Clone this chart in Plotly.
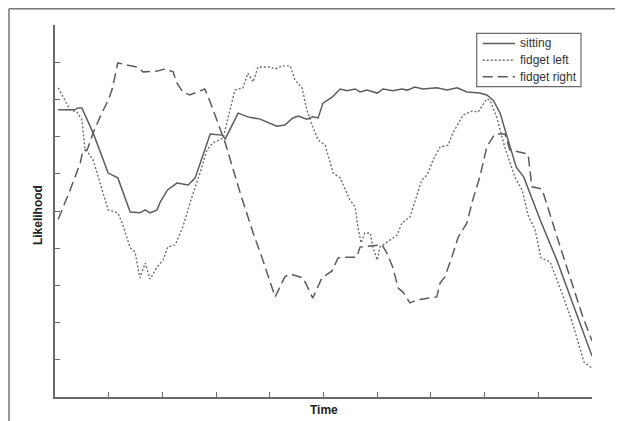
import plotly.graph_objects as go

# ---- data ----
sitting_t = [0.6, 3.7, 4.3, 5.0, 7.1, 9.9, 11.7, 14.0, 15.8, 16.8, 17.7, 19.0, 19.6, 20.9, 22.7, 24.8, 26.1,
             28.9, 31.1, 31.7, 34.1, 35.9, 38.2, 40.0, 41.3, 42.8, 44.3, 45.3, 46.9, 48.0, 49.0, 49.9, 51.6,
             53.1, 54.4, 55.9, 56.8, 58.1, 60.0, 61.1, 62.9, 64.6, 65.6, 67.0, 68.5, 71.1, 73.0, 74.9, 76.7,
             79.1, 80.4, 81.6, 82.9, 83.8, 85.9, 87.3, 90.3, 93.5, 95.9, 98.3, 100.0]
sitting_l = [7.72, 7.72, 7.77, 7.77, 7.10, 6.02, 5.89, 4.97, 4.95, 5.03, 4.95, 5.03, 5.24, 5.56, 5.75, 5.70, 5.89,
             7.07, 7.04, 6.94, 7.63, 7.53, 7.47, 7.37, 7.28, 7.31, 7.50, 7.55, 7.47, 7.53, 7.50, 7.90, 8.06,
             8.28, 8.23, 8.28, 8.20, 8.25, 8.17, 8.28, 8.23, 8.28, 8.25, 8.33, 8.28, 8.31, 8.25, 8.31, 8.20,
             8.17, 8.12, 7.98, 7.63, 7.18, 6.18, 5.91, 4.78, 3.66, 2.72, 1.80, 1.10]

fidget_left_t = [0.6, 1.9, 2.8, 4.1, 5.0, 5.6, 6.2, 7.1, 8.4, 9.9, 11.7, 12.5, 14.0, 14.9, 15.8, 16.8, 17.7,
                 19.0, 20.1, 21.0, 22.4, 23.8, 25.5, 27.0, 28.3, 29.4, 31.3, 32.6, 33.5, 35.0, 35.9, 36.9,
                 37.8, 40.0, 41.0, 42.3, 43.8, 44.7, 46.0, 46.9, 48.0, 49.0, 50.3, 51.8, 53.1, 54.9, 55.9,
                 56.4, 57.0, 57.7, 58.7, 59.2, 60.0, 60.5, 61.8, 63.7, 64.6, 66.1, 66.7, 68.3, 69.3, 70.4,
                 71.7, 73.2, 74.1, 76.0, 77.7, 78.8, 80.4, 81.0, 82.3, 83.8, 85.7, 87.0, 88.1, 89.4, 90.5,
                 92.2, 94.4, 96.3, 98.5, 100.0]
fidget_left_l = [8.31, 7.98, 7.72, 7.66, 7.45, 6.64, 6.56, 6.37, 5.75, 5.03, 4.95, 4.68, 4.01, 3.90, 3.20, 3.60, 3.17,
                 3.49, 3.68, 4.03, 4.09, 4.57, 5.38, 6.02, 6.64, 6.83, 6.96, 7.72, 8.25, 8.31, 8.71, 8.47,
                 8.87, 8.87, 8.82, 8.90, 8.90, 8.52, 8.31, 7.72, 7.26, 6.91, 6.77, 6.02, 5.89, 5.30, 5.11,
                 4.57, 4.14, 4.41, 4.41, 4.03, 3.68, 4.03, 4.17, 4.35, 4.68, 4.84, 5.11, 5.83, 5.97, 6.37,
                 6.72, 6.77, 7.10, 7.58, 7.69, 7.66, 8.01, 7.98, 7.50, 6.69, 5.89, 5.56, 4.89, 4.49, 3.74,
                 3.63, 2.80, 2.02, 0.94, 0.78]

fidget_right_t = [0.6, 2.8, 4.7, 5.2, 6.0, 7.1, 8.4, 9.9, 10.6, 11.7, 13.6, 15.3, 16.4, 19.0, 20.5, 22.0, 22.7,
                  23.8, 25.1, 27.9, 28.9, 30.4, 31.7, 34.5, 36.9, 38.7, 41.0, 42.8, 43.8, 46.2, 48.0, 49.7,
                  51.6, 52.7, 54.0, 56.2, 56.8, 60.9, 61.8, 62.9, 63.9, 64.8, 66.1, 67.4, 71.1, 71.7, 72.6,
                  73.9, 75.1, 76.7, 77.8, 79.1, 80.4, 81.9, 83.8, 84.7, 86.6, 88.1, 88.8, 90.7, 93.5, 95.9,
                  98.3, 100.0]
fidget_right_l = [4.78, 5.56, 6.29, 6.64, 6.64, 7.10, 7.53, 7.98, 8.25, 8.98, 8.92, 8.87, 8.74, 8.76, 8.82, 8.74, 8.44,
                  8.20, 8.12, 8.28, 7.93, 7.37, 6.83, 5.48, 4.41, 3.68, 2.69, 3.23, 3.31, 3.20, 2.66, 3.20,
                  3.39, 3.74, 3.76, 3.76, 4.03, 4.09, 3.87, 3.49, 2.93, 2.82, 2.53, 2.61, 2.69, 3.06, 3.23,
                  3.76, 4.30, 4.68, 5.30, 5.91, 6.72, 7.07, 7.07, 6.64, 6.59, 6.53, 5.65, 5.59, 4.30, 3.23,
                  2.15, 1.51]

series_names = ["sitting", "fidget left", "fidget right"]
x_ticks = [0, 10, 20, 30, 40, 50, 60, 70, 80, 90, 100]
y_ticks = [1, 2, 3, 4, 5, 6, 7, 8, 9, 10]

# ---- styles ----
SOLID = dict(color="#5c5c5c", width=1.5, dash="solid")
DOTTED = dict(color="#6e6e6e", width=1.4, dash="2px,2px")
DASHED = dict(color="#5c5c5c", width=1.5, dash="10px,5px")
styles = [SOLID, DOTTED, DASHED]

fig = go.Figure()
for name, t, l, st in zip(series_names, [sitting_t, fidget_left_t, fidget_right_t],
                          [sitting_l, fidget_left_l, fidget_right_l], styles):
    fig.add_trace(go.Scatter(x=t, y=l, mode="lines", name=name, line=st, showlegend=False))

axis_common = dict(showgrid=False, zeroline=False, showline=True, linecolor="#6a6a6a", linewidth=1.5,
                   ticks="inside", ticklen=5, tickwidth=1.2, tickcolor="#6a6a6a",
                   showticklabels=False, fixedrange=True)

# hand-drawn legend box (paper coordinates of the plot area)
leg_x0, leg_x1, leg_y0, leg_y1 = 0.7853, 0.9795, 0.8341, 0.9777
row_y = [0.9503, 0.9051, 0.8610]
sample_x0, sample_x1, text_x = 0.7965, 0.8566, 0.8613

shapes = [
    # outer frame of the original figure (top and left edges)
    dict(type="line", xref="paper", yref="paper", x0=-0.0857, y0=1.0437, x1=1.1, y1=1.0437,
         line=dict(color="#777777", width=1.5)),
    dict(type="line", xref="paper", yref="paper", x0=-0.0857, y0=1.0437, x1=-0.0857, y1=-0.1,
         line=dict(color="#777777", width=1.5)),
    dict(type="rect", xref="paper", yref="paper", x0=leg_x0, y0=leg_y0, x1=leg_x1, y1=leg_y1,
         line=dict(color="#6a6a6a", width=1.2), fillcolor="white", layer="above"),
]
annotations = [
    dict(text="<b>Likelihood</b>", xref="paper", yref="paper", x=-0.0317, y=0.489,
         textangle=-90, showarrow=False, xanchor="center", yanchor="middle",
         font=dict(size=12, color="#222222")),
    dict(text="<b>Time</b>", xref="paper", yref="paper", x=0.501, y=-0.036,
         showarrow=False, xanchor="center", yanchor="middle",
         font=dict(size=12, color="#222222")),
]
for name, st, ry in zip(series_names, styles, row_y):
    shapes.append(dict(type="line", xref="paper", yref="paper", x0=sample_x0, x1=sample_x1, y0=ry, y1=ry,
                       line=st, layer="above"))
    annotations.append(dict(text=name, xref="paper", yref="paper", x=text_x, y=ry, xanchor="left",
                            yanchor="middle", showarrow=False, font=dict(size=12, color="#333333")))

fig.update_layout(
    width=615, height=413,
    margin=dict(l=47, r=31, t=17, b=24, pad=0),
    paper_bgcolor="white", plot_bgcolor="white",
    font=dict(family="Liberation Sans, Arial, sans-serif", color="#333333", size=11),
    xaxis=dict(range=[0, 100], tickvals=x_ticks, **axis_common),
    yaxis=dict(range=[0, 10], tickvals=y_ticks, **axis_common),
    showlegend=False,
    annotations=annotations,
    shapes=shapes,
)

fig.write_html("out.html")
